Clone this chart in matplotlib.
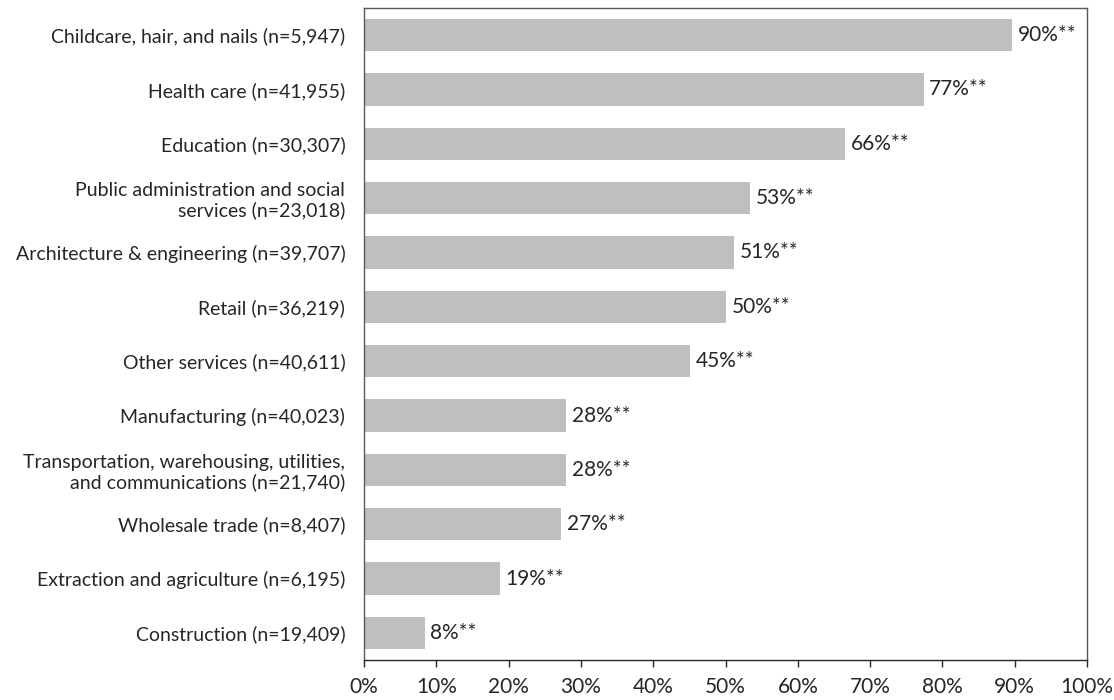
import numpy as np
from matplotlib import pyplot as plt
from matplotlib.ticker import PercentFormatter

categories = [
    "Childcare, hair, and nails (n=5,947)",
    "Health care (n=41,955)",
    "Education (n=30,307)",
    "Public administration and social\nservices (n=23,018)",
    "Architecture & engineering (n=39,707)",
    "Retail (n=36,219)",
    "Other services (n=40,611)",
    "Manufacturing (n=40,023)",
    "Transportation, warehousing, utilities,\nand communications (n=21,740)",
    "Wholesale trade (n=8,407)",
    "Extraction and agriculture (n=6,195)",
    "Construction (n=19,409)",
]
values = [89.6, 77.4, 66.5, 53.4, 51.2, 50.1, 45.1, 28.0, 28.0, 27.3, 18.8, 8.4]
value_labels = ["90%**", "77%**", "66%**", "53%**", "51%**", "50%**", "45%**",
                "28%**", "28%**", "27%**", "19%**", "8%**"]
x_ticks = np.arange(0, 101, 10)

plt.rcParams['font.family'] = ['Lato', 'DejaVu Sans']
FS = 15

fig = plt.figure(figsize=(11.14, 7), dpi=100)
ax = fig.add_axes([0.3268, 0.0571, 0.6490, 0.9315])

y = np.arange(len(categories))
ax.barh(y, values, height=0.59, color='#bfbfbf')

for yi, v, lab in zip(y, values, value_labels):
    ax.annotate(lab, (v, yi), xytext=(4, 0), textcoords='offset points',
                va='center', ha='left', fontsize=FS, color='#262626')

ax.set_xlim(0, 100)
ax.set_ylim(len(categories) - 0.5, -0.5)
ax.set_yticks(y)
ax.set_yticklabels(categories, fontsize=14, color='#262626', linespacing=1.15)
ax.set_xticks(x_ticks)
ax.xaxis.set_major_formatter(PercentFormatter(decimals=0))
ax.tick_params(axis='x', labelsize=FS, colors='#262626', length=5, width=1,
               direction='out', pad=7)
ax.tick_params(axis='y', length=0, pad=13.5)
for s in ax.spines.values():
    s.set_color('#595959')
    s.set_linewidth(1)
ax.spines['bottom'].set_color('#262626')

fig.savefig('out.png', dpi=100)
